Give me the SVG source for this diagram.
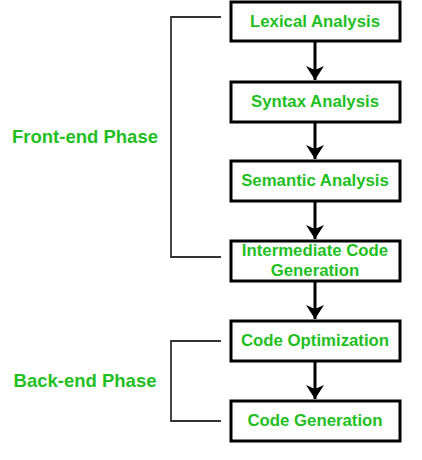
<svg xmlns="http://www.w3.org/2000/svg" width="422" height="460" viewBox="0 0 422 460">
<defs>
<style>
.box{fill:#fff;stroke:#000;stroke-width:3}
.t{font-family:"Liberation Sans",Arial,sans-serif;font-weight:bold;font-size:16.8px;fill:#1fbf1f;text-anchor:middle}
.ph{font-family:"Liberation Sans",Arial,sans-serif;font-weight:bold;font-size:18.5px;fill:#1fbf1f;text-anchor:middle}
.br{fill:none;stroke:#333;stroke-width:1.8}
.ar{stroke:#000;stroke-width:3;fill:none;marker-end:url(#ah)}
</style>
<marker id="ah" markerUnits="userSpaceOnUse" markerWidth="22" markerHeight="22" refX="0" refY="0" viewBox="-15 -11 17 22" orient="auto">
<path d="M0,0 L-14,-9 L-10,0 L-14,9 Z" fill="#000"/>
</marker>
</defs>
<rect width="422" height="460" fill="#fff"/>
<g id="connectors">
<path class="ar" d="M315,42 V80"/>
<path class="ar" d="M315,122 V159"/>
<path class="ar" d="M315,201 V239"/>
<path class="ar" d="M315,281 V319"/>
<path class="ar" d="M315,361 V399"/>
</g>
<g id="front-bracket">
<path class="br" d="M221,17 H171 V257 H221"/>
<text class="ph" x="85" y="143">Front-end Phase</text>
</g>
<g id="back-bracket">
<path class="br" d="M221,341 H171 V421 H221"/>
<text class="ph" x="85" y="387">Back-end Phase</text>
</g>
<g id="lexical">
<rect class="box" x="231" y="2" width="169" height="39"/>
<text class="t" x="315" y="26.5">Lexical Analysis</text>
</g>
<g id="syntax">
<rect class="box" x="231" y="82" width="169" height="40"/>
<text class="t" x="315" y="107">Syntax Analysis</text>
</g>
<g id="semantic">
<rect class="box" x="231" y="161" width="169" height="40"/>
<text class="t" x="315" y="186">Semantic Analysis</text>
</g>
<g id="intermediate">
<rect class="box" x="231" y="241" width="169" height="40"/>
<text class="t" x="315" y="256">Intermediate Code</text>
<text class="t" x="315" y="276">Generation</text>
</g>
<g id="optimization">
<rect class="box" x="231" y="321" width="169" height="40"/>
<text class="t" x="315" y="346">Code Optimization</text>
</g>
<g id="codegen">
<rect class="box" x="231" y="401" width="169" height="40"/>
<text class="t" x="315" y="426">Code Generation</text>
</g>
</svg>
